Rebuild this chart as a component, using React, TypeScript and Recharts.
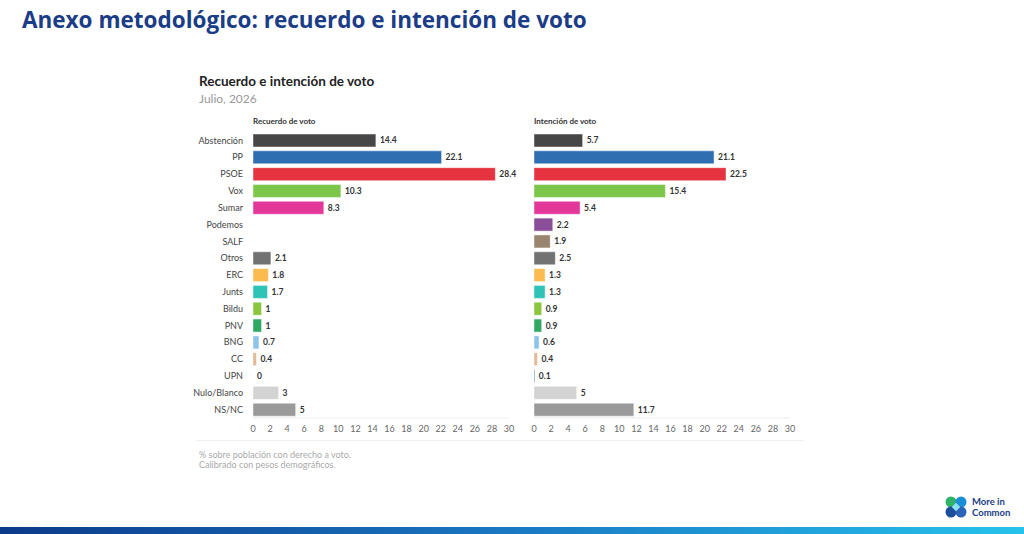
import { Bar, BarChart, Cell, LabelList, XAxis, YAxis } from 'recharts';

const categories = [
  'Abstención', 'PP', 'PSOE', 'Vox', 'Sumar', 'Podemos', 'SALF', 'Otros', 'ERC',
  'Junts', 'Bildu', 'PNV', 'BNG', 'CC', 'UPN', 'Nulo/Blanco', 'NS/NC',
];
const recuerdo = [14.4, 22.1, 28.4, 10.3, 8.3, null, null, 2.1, 1.8, 1.7, 1, 1, 0.7, 0.4, 0, 3, 5];
const intencion = [5.7, 21.1, 22.5, 15.4, 5.4, 2.2, 1.9, 2.5, 1.3, 1.3, 0.9, 0.9, 0.6, 0.4, 0.1, 5, 11.7];
const partyColors = [
  '#474747', '#2f6fb1', '#e5343f', '#7cc74a', '#e4379a', '#8a4f98', '#9a8571', '#727272', '#fbbb4f',
  '#2fc3b7', '#8cc63f', '#2ea862', '#8fc4ea', '#e2b896', '#3a86b8', '#d3d3d3', '#9a9a9a',
];
const xTicks = [0, 2, 4, 6, 8, 10, 12, 14, 16, 18, 20, 22, 24, 26, 28, 30];

const FONT = 'Lato, "Noto Sans", sans-serif';

const dataRecuerdo = categories.map((name, i) => ({ name, value: recuerdo[i] }));
const dataIntencion = categories.map((name, i) => ({ name, value: intencion[i] }));

function ValueLabel(props: any) {
  const { x, y, width, height, value } = props;
  if (value === null || value === undefined) return null;
  return (
    <text
      x={Number(x) + Number(width) + 4}
      y={Number(y) + Number(height) / 2}
      dy="0.35em"
      fontSize={8.5}
      fontWeight={700}
      fill="#333"
      fontFamily={FONT}
    >
      {value}
    </text>
  );
}

type PanelProps = {
  data: { name: string; value: number | null }[];
  showNames: boolean;
};

function Panel({ data, showNames }: PanelProps) {
  const yWidth = showNames ? 63 : 0;
  const left = showNames ? 0 : 8;
  return (
    <BarChart
      width={left + yWidth + 256 + 16}
      height={306}
      data={data}
      layout="vertical"
      margin={{ top: 0, right: 16, bottom: 0, left }}
      barSize={13}
    >
      <XAxis
        type="number"
        domain={[0, 30]}
        ticks={xTicks}
        interval={0}
        height={20}
        tickLine={false}
        axisLine={{ stroke: '#ececec' }}
        tick={{ fontSize: 9, fill: '#666', fontFamily: FONT }}
      />
      <YAxis
        type="category"
        dataKey="name"
        hide={!showNames}
        width={yWidth}
        axisLine={false}
        tickLine={false}
        interval={0}
        tickMargin={4}
        tick={{ fontSize: 9, fill: '#444', fontFamily: FONT }}
      />
      <Bar
        dataKey="value"
        isAnimationActive={false}
        stroke="rgba(255,255,255,0.45)"
        strokeWidth={1}
        minPointSize={(v: any) => (v === 0 ? 0.01 : 0)}
      >
        {data.map((d, i) => (
          <Cell key={d.name} fill={partyColors[i]} />
        ))}
        <LabelList dataKey="value" content={ValueLabel} />
      </Bar>
    </BarChart>
  );
}

function Logo() {
  return (
    <svg width={80} height={26} style={{ position: 'absolute', left: 944, top: 495 }}>
      <circle cx={7} cy={7} r={5.5} fill="#2fb26a" />
      <circle cx={17} cy={7} r={5.5} fill="#1b8fd6" />
      <circle cx={7} cy={17} r={5.5} fill="#1c4e9c" />
      <circle cx={17} cy={17} r={5.5} fill="#2b63b8" />
      <rect x={9} y={9} width={6} height={6} fill="#8ee0f2" transform="rotate(45 12 12)" />
      <text x={28} y={10} fontSize={9.5} fontWeight={700} fill="#1b3c87" fontFamily={FONT}>More in</text>
      <text x={28} y={21} fontSize={9.5} fontWeight={700} fill="#1b3c87" fontFamily={FONT}>Common</text>
    </svg>
  );
}

export default function App() {
  return (
    <div
      style={{
        position: 'absolute',
        left: 0,
        top: 0,
        width: 1024,
        height: 534,
        background: '#fff',
        overflow: 'hidden',
        fontFamily: FONT,
      }}
    >
      <div
        style={{
          position: 'absolute',
          left: 22,
          top: 4,
          fontSize: 22.5,
          fontWeight: 700,
          color: '#1b3c87',
          fontFamily: '"Open Sans", sans-serif',
          whiteSpace: 'nowrap',
        }}
      >
        Anexo metodológico: recuerdo e intención de voto
      </div>
      <div style={{ position: 'absolute', left: 199, top: 73, fontSize: 13.5, fontWeight: 700, color: '#222' }}>
        Recuerdo e intención de voto
      </div>
      <div style={{ position: 'absolute', left: 199, top: 91, fontSize: 12, color: '#999' }}>Julio, 2026</div>
      <div style={{ position: 'absolute', left: 253, top: 116, fontSize: 8, fontWeight: 700, color: '#333' }}>
        Recuerdo de voto
      </div>
      <div style={{ position: 'absolute', left: 534, top: 116, fontSize: 8, fontWeight: 700, color: '#333' }}>
        Intención de voto
      </div>
      <div style={{ position: 'absolute', left: 190, top: 132 }}>
        <Panel data={dataRecuerdo} showNames />
      </div>
      <div style={{ position: 'absolute', left: 526, top: 132 }}>
        <Panel data={dataIntencion} showNames={false} />
      </div>
      <div style={{ position: 'absolute', left: 196, top: 440, width: 608, height: 1, background: '#f0f0f0' }} />
      <div style={{ position: 'absolute', left: 199, top: 450, fontSize: 9, color: '#aaa', lineHeight: '10px' }}>
        % sobre población con derecho a voto.
        <br />
        Calibrado con pesos demográficos.
      </div>
      <Logo />
      <div
        style={{
          position: 'absolute',
          left: 0,
          top: 527,
          width: 1024,
          height: 7,
          background: 'linear-gradient(90deg, #0c3a8a 0%, #1a78c2 50%, #26c2ec 100%)',
        }}
      />
    </div>
  );
}
